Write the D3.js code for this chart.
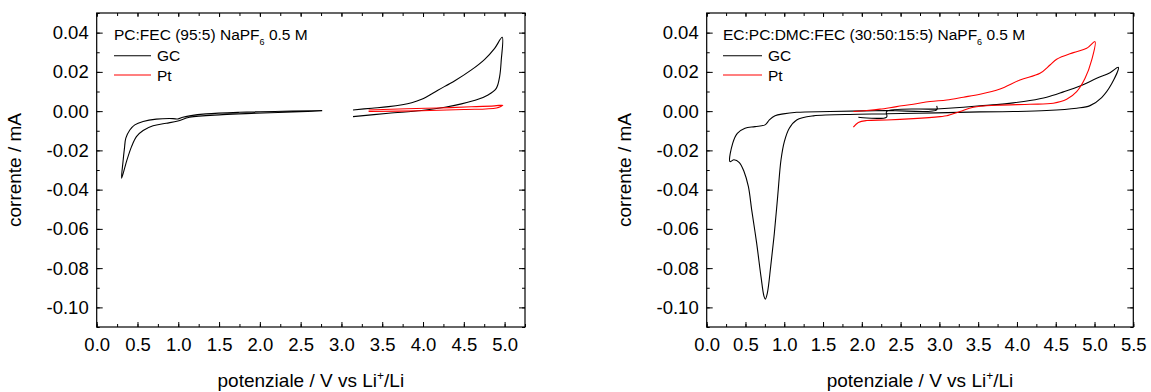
<!DOCTYPE html>
<html>
<head>
<meta charset="utf-8">
<script src="https://cdn.jsdelivr.net/npm/d3@7"></script>
<style>
  html, body { margin: 0; padding: 0; background: #fff; }
  svg { display: block; font-family: "Liberation Sans", Arial, sans-serif; }
</style>
</head>
<body>
<svg id="chart" width="1151" height="392"></svg>
<script>
// ---- Data: potential (V vs Li+/Li), current (mA) ----
// PC:FEC (95:5) NaPF6 0.5 M — glassy carbon, cathodic window
const gcCathodicA = [
  [2.764, 0.0001], [1.951, -0.0011], [1.544, -0.0018], [1.138, -0.0031],
  [0.995, -0.0050], [0.853, -0.0062], [0.691, -0.0075], [0.569, -0.0099],
  [0.487, -0.0130], [0.427, -0.0181], [0.365, -0.0257], [0.305, -0.0342],
  [0.322, -0.0260], [0.340, -0.0190], [0.357, -0.0138], [0.406, -0.0096],
  [0.467, -0.0070], [0.569, -0.0053], [0.731, -0.0041], [0.935, -0.0038],
  [0.995, -0.0040], [1.056, -0.0031], [1.138, -0.0024], [1.341, -0.0014],
  [1.748, -0.0006], [2.764, 0.0003]
];
// PC:FEC (95:5) — glassy carbon, anodic window
const gcAnodicA = [
  [3.142, 0.0006], [3.374, 0.0015], [3.577, 0.0023], [3.861, 0.0043],
  [3.983, 0.0060], [4.187, 0.0108], [4.390, 0.0155], [4.593, 0.0210],
  [4.756, 0.0264], [4.878, 0.0320], [4.971, 0.0376], [4.959, 0.0261],
  [4.939, 0.0176], [4.898, 0.0116], [4.797, 0.0082], [4.675, 0.0060],
  [4.471, 0.0037], [4.268, 0.0020], [3.983, 0.0003], [3.577, -0.0011],
  [3.142, -0.0028]
];
// PC:FEC (95:5) — platinum, anodic window
const ptAnodicA = [
  [3.333, 0.0006], [3.800, 0.0012], [4.187, 0.0016], [4.590, 0.0022],
  [4.878, 0.0027], [4.979, 0.0030], [4.900, 0.0016], [4.500, 0.0008],
  [3.983, 0.0002], [3.333, -0.0002]
];

// EC:PC:DMC:FEC (30:50:15:5) NaPF6 0.5 M — glassy carbon
const gcFullB = [
  [2.965, 0.0027], [2.965, 0.0006], [2.320, 0.0003], [1.590, -0.0002],
  [1.160, -0.0006], [0.988, -0.0014], [0.881, -0.0024], [0.808, -0.0045],
  [0.752, -0.0070], [0.623, -0.0079], [0.494, -0.0087], [0.395, -0.0113],
  [0.335, -0.0164], [0.300, -0.0257], [0.352, -0.0248], [0.421, -0.0262],
  [0.481, -0.0308], [0.537, -0.0384], [0.580, -0.0503], [0.644, -0.0673],
  [0.700, -0.0843], [0.739, -0.0944], [0.756, -0.0958], [0.782, -0.0927],
  [0.825, -0.0792], [0.872, -0.0622], [0.915, -0.0435], [0.958, -0.0248],
  [1.001, -0.0155], [1.065, -0.0087], [1.160, -0.0045], [1.375, -0.0024],
  [1.955, -0.0016], [2.320, -0.0013], [2.965, -0.0009], [3.524, -0.0004],
  [3.953, -0.0002], [4.383, 0.0003], [4.770, 0.0015], [4.942, 0.0028],
  [5.092, 0.0069], [5.221, 0.0139], [5.307, 0.0223], [5.200, 0.0196],
  [5.028, 0.0167], [4.813, 0.0128], [4.598, 0.0098], [4.383, 0.0071],
  [4.168, 0.0054], [3.953, 0.0042], [3.739, 0.0033], [3.524, 0.0027],
  [3.309, 0.0020], [2.965, 0.0011], [2.320, -0.0002], [2.320, -0.0030],
  [1.955, -0.0031]
];
// EC:PC:DMC:FEC (30:50:15:5) — platinum
const ptFullB = [
  [1.891, -0.0082], [1.955, -0.0058], [2.063, -0.0048], [2.320, -0.0045],
  [2.664, -0.0038], [3.008, -0.0028], [3.094, -0.0024], [3.266, -0.0002],
  [3.438, 0.0020], [3.739, 0.0030], [4.168, 0.0035], [4.469, 0.0040],
  [4.641, 0.0060], [4.770, 0.0099], [4.878, 0.0167], [4.964, 0.0261],
  [5.006, 0.0354], [4.899, 0.0320], [4.727, 0.0298], [4.512, 0.0264],
  [4.426, 0.0235], [4.297, 0.0193], [4.039, 0.0159], [3.782, 0.0113],
  [3.524, 0.0086], [3.309, 0.0071], [3.094, 0.0057], [2.879, 0.0049],
  [2.664, 0.0035], [2.449, 0.0023], [2.234, 0.0010], [2.063, 0.0003],
  [1.891, -0.0002]
];

// ---- Tick values ----
const xTicksA = [0, 0.5, 1, 1.5, 2, 2.5, 3, 3.5, 4, 4.5, 5];
const xTicksB = [0, 0.5, 1, 1.5, 2, 2.5, 3, 3.5, 4, 4.5, 5, 5.5];
const yTicks = [-0.10, -0.08, -0.06, -0.04, -0.02, 0.00, 0.02, 0.04];

const seriesNames = ["GC", "Pt"];
const seriesColors = ["#000000", "#ff0000"];

const TICK_FONT = "18.5px";
const TITLE_FONT = "19px";
const LEGEND_FONT = "15.5px";

const svg = d3.select("#chart");

function drawPanel(cfg) {
  const g = svg.append("g");
  const x = d3.scaleLinear().domain(cfg.xDomain).range([cfg.left, cfg.right]);
  const y = d3.scaleLinear().domain([-0.11, 0.05]).range([327, 13]);

  const xMinor = d3.range(0, cfg.xDomain[1] + 1e-9, 0.25);
  const yMinor = d3.range(-0.11, 0.0501, 0.01).map(v => +v.toFixed(3));

  const tickStyle = sel => {
    sel.select(".domain").remove();
    sel.selectAll("line").attr("stroke", "#000").attr("stroke-width", 1);
  };
  const labelStyle = sel => sel.selectAll("text").attr("fill", "#000")
    .style("font-size", TICK_FONT)
    .style("font-family", "Liberation Sans, Arial, sans-serif");

  // bottom axis: labels + inward ticks
  g.append("g").attr("transform", `translate(0,${y.range()[0]})`)
    .call(d3.axisBottom(x).tickValues(xMinor).tickSize(-3).tickFormat(""))
    .call(tickStyle);
  g.append("g").attr("transform", `translate(0,${y.range()[0]})`)
    .call(d3.axisBottom(x).tickValues(cfg.xTicks).tickSize(-5).tickPadding(11)
      .tickFormat(d => d.toFixed(1)))
    .call(tickStyle).call(labelStyle);
  // top axis: mirrored ticks
  g.append("g").attr("transform", `translate(0,${y.range()[1]})`)
    .call(d3.axisTop(x).tickValues(xMinor).tickSize(-3).tickFormat(""))
    .call(tickStyle);
  g.append("g").attr("transform", `translate(0,${y.range()[1]})`)
    .call(d3.axisTop(x).tickValues(cfg.xTicks).tickSize(-4).tickFormat(""))
    .call(tickStyle);

  // left axis
  g.append("g").attr("transform", `translate(${cfg.left},0)`)
    .call(d3.axisLeft(y).tickValues(yMinor).tickSize(-3).tickFormat(""))
    .call(tickStyle);
  g.append("g").attr("transform", `translate(${cfg.left},0)`)
    .call(d3.axisLeft(y).tickValues(yTicks).tickSize(-6).tickPadding(8)
      .tickFormat(d => (Math.abs(d) < 1e-9 ? 0 : d).toFixed(2)))
    .call(tickStyle).call(labelStyle);
  // right axis: mirrored ticks
  g.append("g").attr("transform", `translate(${cfg.right},0)`)
    .call(d3.axisRight(y).tickValues(yMinor).tickSize(-3).tickFormat(""))
    .call(tickStyle);
  g.append("g").attr("transform", `translate(${cfg.right},0)`)
    .call(d3.axisRight(y).tickValues(yTicks).tickSize(-6).tickFormat(""))
    .call(tickStyle);

  // frame
  g.append("rect")
    .attr("x", cfg.left).attr("y", y.range()[1])
    .attr("width", cfg.right - cfg.left).attr("height", y.range()[0] - y.range()[1])
    .attr("fill", "none").attr("stroke", "#000").attr("stroke-width", 1.2);

  // curves
  const line = d3.line()
    .x(d => x(d[0])).y(d => y(d[1]))
    .curve(d3.curveCatmullRom.alpha(0.5));
  cfg.curves.forEach(c => {
    g.append("path").datum(c.data)
      .attr("d", line)
      .attr("fill", "none")
      .attr("stroke", c.color)
      .attr("stroke-width", 1.1)
      .attr("stroke-linejoin", "round");
  });

  // legend
  const lx = cfg.legendX;
  const title = g.append("text")
    .attr("x", lx).attr("y", 40)
    .style("font-size", LEGEND_FONT).attr("fill", "#000");
  title.append("tspan").text(cfg.titleMain);
  title.append("tspan").text("6").style("font-size", "9px").attr("dy", 5);
  title.append("tspan").text(" 0.5 M").attr("dy", -5);

  seriesNames.forEach((name, i) => {
    const ly = 55.7 + i * 19.3;
    g.append("line")
      .attr("x1", lx).attr("x2", lx + cfg.legendLen)
      .attr("y1", ly).attr("y2", ly)
      .attr("stroke", seriesColors[i]).attr("stroke-width", 1.1);
    g.append("text")
      .attr("x", lx + cfg.legendLen + 6).attr("y", ly + 5.5)
      .style("font-size", LEGEND_FONT).attr("fill", "#000")
      .text(name);
  });

  // axis titles
  const xt = g.append("text")
    .attr("x", (cfg.left + cfg.right) / 2).attr("y", 387)
    .attr("text-anchor", "middle")
    .style("font-size", TITLE_FONT).attr("fill", "#000");
  xt.append("tspan").text("potenziale / V vs Li");
  xt.append("tspan").text("+").style("font-size", "12px").attr("dy", -7);
  xt.append("tspan").text("/Li").attr("dy", 7);

  g.append("text")
    .attr("transform", `translate(${cfg.left - 76},170) rotate(-90)`)
    .attr("text-anchor", "middle")
    .style("font-size", TITLE_FONT).attr("fill", "#000")
    .text("corrente / mA");
}

drawPanel({
  xDomain: [0, 5.25], left: 96.7, right: 525, xTicks: xTicksA,
  legendX: 114, legendLen: 37,
  titleMain: "PC:FEC (95:5) NaPF",
  curves: [
    { data: gcCathodicA, color: seriesColors[0] },
    { data: gcAnodicA, color: seriesColors[0] },
    { data: ptAnodicA, color: seriesColors[1] }
  ]
});

drawPanel({
  xDomain: [0, 5.5], left: 706.7, right: 1133.3, xTicks: xTicksB,
  legendX: 723, legendLen: 39,
  titleMain: "EC:PC:DMC:FEC (30:50:15:5) NaPF",
  curves: [
    { data: gcFullB, color: seriesColors[0] },
    { data: ptFullB, color: seriesColors[1] }
  ]
});
</script>
</body>
</html>
